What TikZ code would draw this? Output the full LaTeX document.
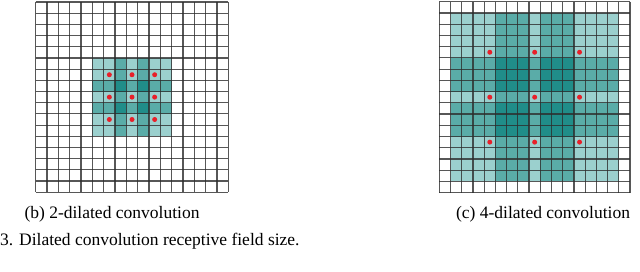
\documentclass[tikz,border=0pt]{standalone}
\usepackage{fontspec}
\setmainfont{Liberation Serif}
\definecolor{tlight}{RGB}{155,208,206}
\definecolor{tmed}{RGB}{90,172,168}
\definecolor{tdark}{RGB}{32,141,137}
\definecolor{gline}{RGB}{45,45,45}
\definecolor{dotred}{RGB}{232,32,42}
\tikzset{
  gridline/.style={draw=gline, line width=1.15pt, opacity=0.8},
  reddot/.style={fill=dotred, draw=none},
  lab/.style={font=\fontsize{17.5}{20}\selectfont, inner sep=0pt}
}
\begin{document}
\begin{tikzpicture}[x=1pt,y=-1pt]
\useasboundingbox[fill=white] (0,0) rectangle (640,272);
% ---------- (b) 2-dilated ----------
\begin{scope}[shift={(35.7pt,-2pt)}, x=11.33pt, y=-11.19pt]
  \fill[tlight] (5,5) rectangle (12,12);
  \foreach \c in {7,9} {
    \fill[tmed] (\c,5) rectangle (\c+1,12);
    \fill[tmed] (5,\c) rectangle (12,\c+1);
  }
  \foreach \c in {7,9} \foreach \r in {7,9}
    \fill[tdark] (\c,\r) rectangle (\c+1,\r+1);
  \foreach \k in {0,...,17} {
    \draw[gridline] (\k,0) -- (\k,17);
    \draw[gridline] (0,\k) -- (17,\k);
  }
  \foreach \c in {6.5,8.5,10.5} \foreach \r in {6.5,8.5,10.5}
    \fill[reddot] (\c,\r) circle[radius=2.5pt];
\end{scope}
% ---------- (c) 4-dilated ----------
\begin{scope}[shift={(439.3pt,-1.7pt)}, x=11.22pt, y=-11.235pt]
  \fill[tlight] (1,1) rectangle (16,16);
  \foreach \c in {5,9} {
    \fill[tmed] (\c,1) rectangle (\c+3,16);
    \fill[tmed] (1,\c) rectangle (16,\c+3);
  }
  \foreach \c in {5,9} \foreach \r in {5,9}
    \fill[tdark] (\c,\r) rectangle (\c+3,\r+3);
  \foreach \k in {0,...,17} {
    \draw[gridline] (\k,0) -- (\k,17);
    \draw[gridline] (0,\k) -- (17,\k);
  }
  \foreach \c in {4.5,8.5,12.5} \foreach \r in {4.5,8.5,12.5}
    \fill[reddot] (\c,\r) circle[radius=2.5pt];
\end{scope}
% ---------- labels ----------
\node[lab] (capb) at (112,214) {(b) 2-dilated convolution};
\node[lab] (capc) at (543,214) {(c) 4-dilated convolution};
\node[lab, anchor=west] (capfig) at (0,241) {3. Dilated convolution receptive field size.};
\end{tikzpicture}
\end{document}
